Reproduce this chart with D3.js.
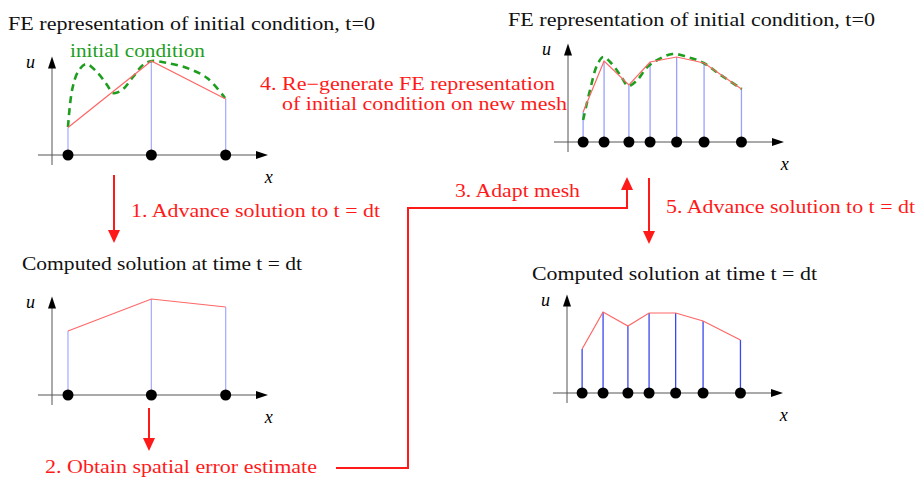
<!DOCTYPE html>
<html>
<head>
<meta charset="utf-8">
<script src="https://cdn.jsdelivr.net/npm/d3@7"></script>
<style>
  body { margin: 0; background: #fff; }
</style>
</head>
<body>
<svg id="chart" width="919" height="478" font-family="'Liberation Serif', 'DejaVu Serif', 'Times New Roman', serif"></svg>
<script>
// coarse mesh (left) and adapted mesh (right), x in axis units 0..10
var coarseNodes = [0.74, 4.6, 8.04];
var fineNodes = [0.7, 1.67, 2.82, 3.8, 5.03, 6.3, 8.03];

// nodal values u
var uInitCoarse = [2.75, 9.4, 5.6];
var uDtCoarse = [6.4, 9.6, 8.8];
var uInitFine = [3.0, 8.1, 5.7, 8.0, 8.5, 7.9, 5.3];
var uDtFine = [4.4, 8.1, 6.7, 8.0, 8.0, 7.2, 5.3];

// sampled initial condition (green dashed)
var icLeftX = [0.74, 0.93, 1.2, 1.57, 2.08, 2.55, 2.82, 3.24, 3.75, 4.21, 4.63, 5.32, 6.25, 7.18, 8.01];
var icLeftU = [2.8, 6.5, 8.3, 9.1, 8.3, 7.0, 6.2, 6.5, 7.8, 9.0, 9.4, 9.2, 8.7, 7.7, 5.7];
var icRightX = [0.7, 1.02, 1.35, 1.63, 1.95, 2.42, 2.79, 3.21, 3.67, 4.14, 4.84, 5.53, 6.28, 7.07, 8.05];
var icRightU = [2.2, 5.2, 7.7, 8.5, 8.0, 6.7, 5.6, 6.2, 7.5, 8.2, 8.8, 8.5, 7.9, 6.7, 5.3];

var svg = d3.select("#chart");
var red = "#ff1a1a";

function panel(ox, oy, nodes, u, stemColor, ic) {
    var x = d3.scaleLinear().domain([0, 10]).range([ox, ox + 216]);
    var y = d3.scaleLinear().domain([0, 10]).range([oy, oy - 100]);
    var g = svg.append("g");

    // axes
    g.append("line")
        .attr("x1", x(-0.65)).attr("x2", x(9.6))
        .attr("y1", y(0)).attr("y2", y(0))
        .attr("stroke", "#555").attr("stroke-width", 1);
    g.append("line")
        .attr("x1", x(0)).attr("x2", x(0))
        .attr("y1", y(-1)).attr("y2", y(9.4))
        .attr("stroke", "#555").attr("stroke-width", 1);
    g.append("path")
        .attr("d", `M${x(10)},${y(0)} l-12,-4 l0,8 z`)
        .attr("fill", "#000");
    g.append("path")
        .attr("d", `M${x(0)},${y(9.85)} l-4,12 l8,0 z`)
        .attr("fill", "#000");
    g.append("text")
        .attr("x", x(0) - 26).attr("y", y(9.85) + 11)
        .attr("font-style", "italic").attr("font-size", "18px")
        .text("u");
    g.append("text")
        .attr("x", x(9.85)).attr("y", y(0) + 28)
        .attr("font-style", "italic").attr("font-size", "18px")
        .text("x");

    // stems
    g.selectAll(".stem")
        .data(nodes)
        .enter()
        .append("line")
        .attr("x1", d => x(d)).attr("x2", d => x(d))
        .attr("y1", y(0)).attr("y2", (d, i) => y(u[i]))
        .attr("stroke", stemColor).attr("stroke-width", 1.3);

    // initial condition
    if (ic) {
        g.append("path")
            .datum(d3.zip(ic[0], ic[1]))
            .attr("d", d3.line().x(d => x(d[0])).y(d => y(d[1])).curve(d3.curveCatmullRom))
            .attr("fill", "none")
            .attr("stroke", "#1e9e1e")
            .attr("stroke-width", 2.6)
            .attr("stroke-dasharray", "7,5");
    }

    // FE interpolant
    g.append("path")
        .datum(d3.zip(nodes, u))
        .attr("d", d3.line().x(d => x(d[0])).y(d => y(d[1])))
        .attr("fill", "none")
        .attr("stroke", "#ff6666")
        .attr("stroke-width", 1.2);

    // nodes
    g.selectAll(".node")
        .data(nodes)
        .enter()
        .append("circle")
        .attr("cx", d => x(d)).attr("cy", y(0))
        .attr("r", 5.5)
        .attr("fill", "#000");
}

panel(52, 155, coarseNodes, uInitCoarse, "#aab0ff", [icLeftX, icLeftU]);
panel(52, 395, coarseNodes, uDtCoarse, "#aab0ff", null);
panel(568, 142, fineNodes, uInitFine, "#99a0ff", [icRightX, icRightU]);
panel(567, 393, fineNodes, uDtFine, "#3a46f0", null);

// labels
function label(txt, x, y, color, len) {
    svg.append("text")
        .attr("x", x).attr("y", y)
        .attr("font-size", "18px")
        .attr("fill", color)
        .attr("textLength", len)
        .attr("lengthAdjust", "spacingAndGlyphs")
        .text(txt);
}
label("FE representation of initial condition, t=0", 8, 30, "#111", 367);
label("FE representation of initial condition, t=0", 508, 26, "#111", 367);
label("initial condition", 70, 57, "#1e9e1e", 135);
label("Computed solution at time t = dt", 22, 270, "#111", 280);
label("Computed solution at time t = dt", 532, 280, "#111", 285);
label("4. Re\u2212generate FE representation", 260, 90, red, 295);
label("of initial condition on new mesh", 282, 110, red, 285);
label("1. Advance solution to t = dt", 131, 217, red, 249);
label("3. Adapt mesh", 455, 197, red, 125);
label("5. Advance solution to t = dt", 666, 213, red, 249);
label("2. Obtain spatial error estimate", 45, 473, red, 272);

// arrows: polyline ending in a filled head
function arrow(points) {
    var p = points[points.length - 1];
    var q = points[points.length - 2];
    var s = p[1] > q[1] ? -1 : 1;
    var shaft = points.slice(0, -1).concat([[p[0], p[1] + s * 10]]);
    svg.append("path")
        .attr("d", d3.line()(shaft))
        .attr("fill", "none").attr("stroke", red).attr("stroke-width", 2);
    svg.append("path")
        .attr("d", `M${p[0]},${p[1]} l-6,${s * 13} l12,0 z`)
        .attr("fill", red);
}
arrow([[114, 175], [114, 243]]);
arrow([[149, 408], [149, 451]]);
arrow([[649, 178], [649, 244]]);
arrow([[336, 468], [408, 468], [408, 208], [627, 208], [627, 177]]);
</script>
</body>
</html>
